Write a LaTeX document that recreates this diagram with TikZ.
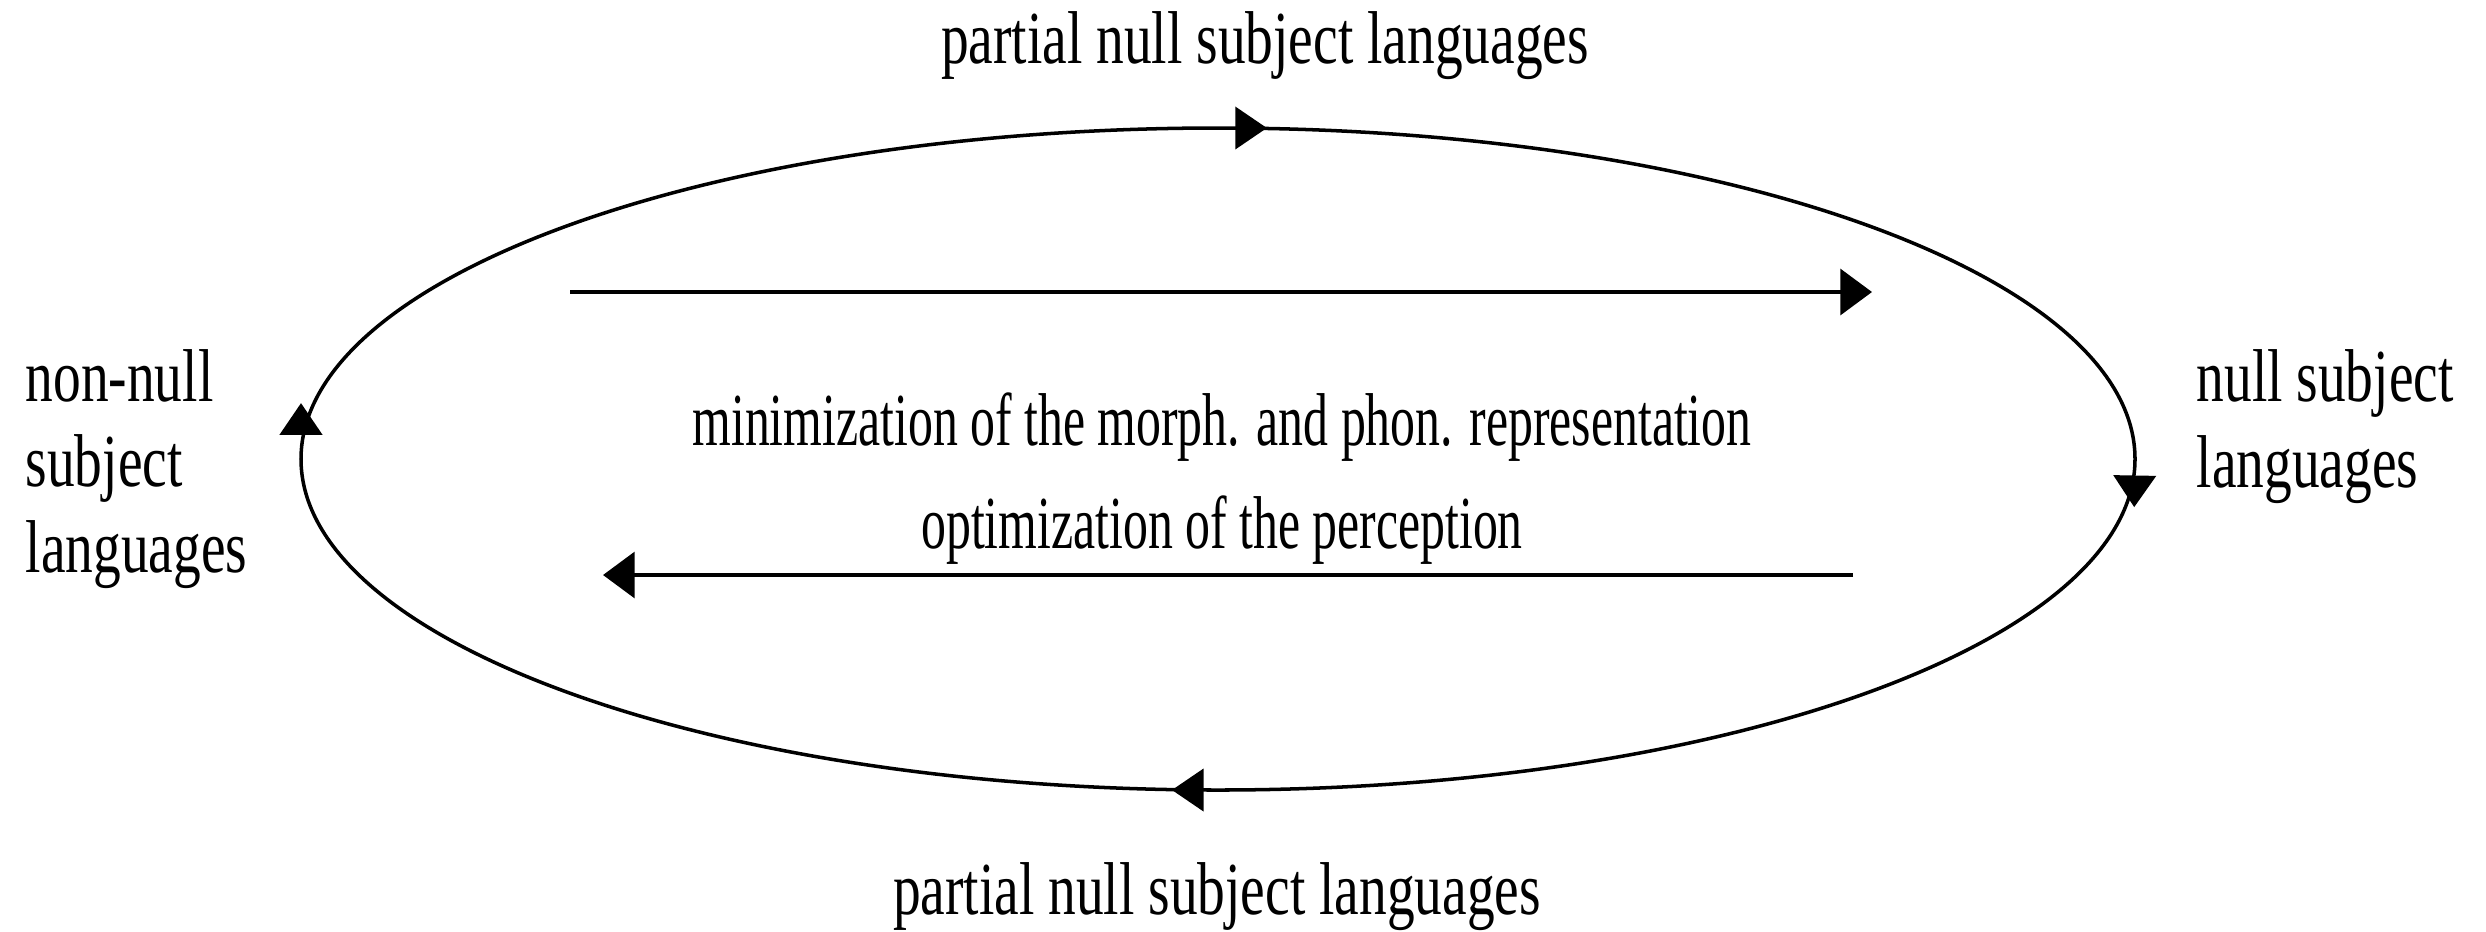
\documentclass[tikz,border=0pt]{standalone}
\usepackage{fontspec}
\setmainfont{Liberation Serif}
\newfontfamily\langfont[FakeStretch=0.74]{Liberation Serif}
\newfontfamily\procfont[FakeStretch=0.665]{Liberation Serif}
\usetikzlibrary{arrows.meta,decorations.markings}

\tikzstyle{lang}=[inner sep=0pt, align=left, font=\langfont\fontsize{21.3}{24.2}\selectfont]
\tikzstyle{process}=[inner sep=0pt, font=\procfont\fontsize{21.3}{24.2}\selectfont]
\tikzstyle{arrow}=[line width=1.2pt, -{Triangle[length=9pt, width=13pt]}]
\tikzstyle{cycletip}=[line width=1pt, postaction=decorate, decoration={markings,
  mark=at position 0.0005 with {\arrow[xshift=13.1pt]{Triangle[length=9pt, width=12pt]}},
  mark=at position 0.25 with {\arrow[xshift=13.1pt]{Triangle[length=9pt, width=12pt]}},
  mark=at position 0.5 with {\arrow[xshift=15.9pt]{Triangle[length=9pt, width=12pt]}},
  mark=at position 0.75 with {\arrow[xshift=13.9pt]{Triangle[length=9pt, width=12pt]}}}]

\begin{document}
\begin{tikzpicture}[x=0.1mm, y=-0.1mm]
      \useasboundingbox (0, 0) rectangle (2486, 931);

      \coordinate (c) at (1218, 459);
      \coordinate (ms) at (570, 292);
      \coordinate (me) at (1872, 292);
      \coordinate (os) at (1853, 575);
      \coordinate (oe) at (603, 575);

      \node[lang, anchor=base] (ptop) at (1265, 63) {partial null subject languages};
      \node[lang, anchor=base] (pbot) at (1217, 914) {partial null subject languages};
      \node[lang, anchor=base west] (nonnull) at (25, 572) {non-null\\subject\\languages};
      \node[lang, anchor=base west] (nullsub) at (2196, 487) {null subject\\languages};
      \node[process, anchor=base] (minim) at (1222, 445) {minimization of the morph. and phon. representation};
      \node[process, anchor=base] (optim) at (1222, 548) {optimization of the perception};

      \draw[cycletip] (c) ellipse [x radius=917, y radius=331];
      \draw[arrow] (ms) to (me);
      \draw[arrow] (os) to (oe);
    \end{tikzpicture}
\end{document}
